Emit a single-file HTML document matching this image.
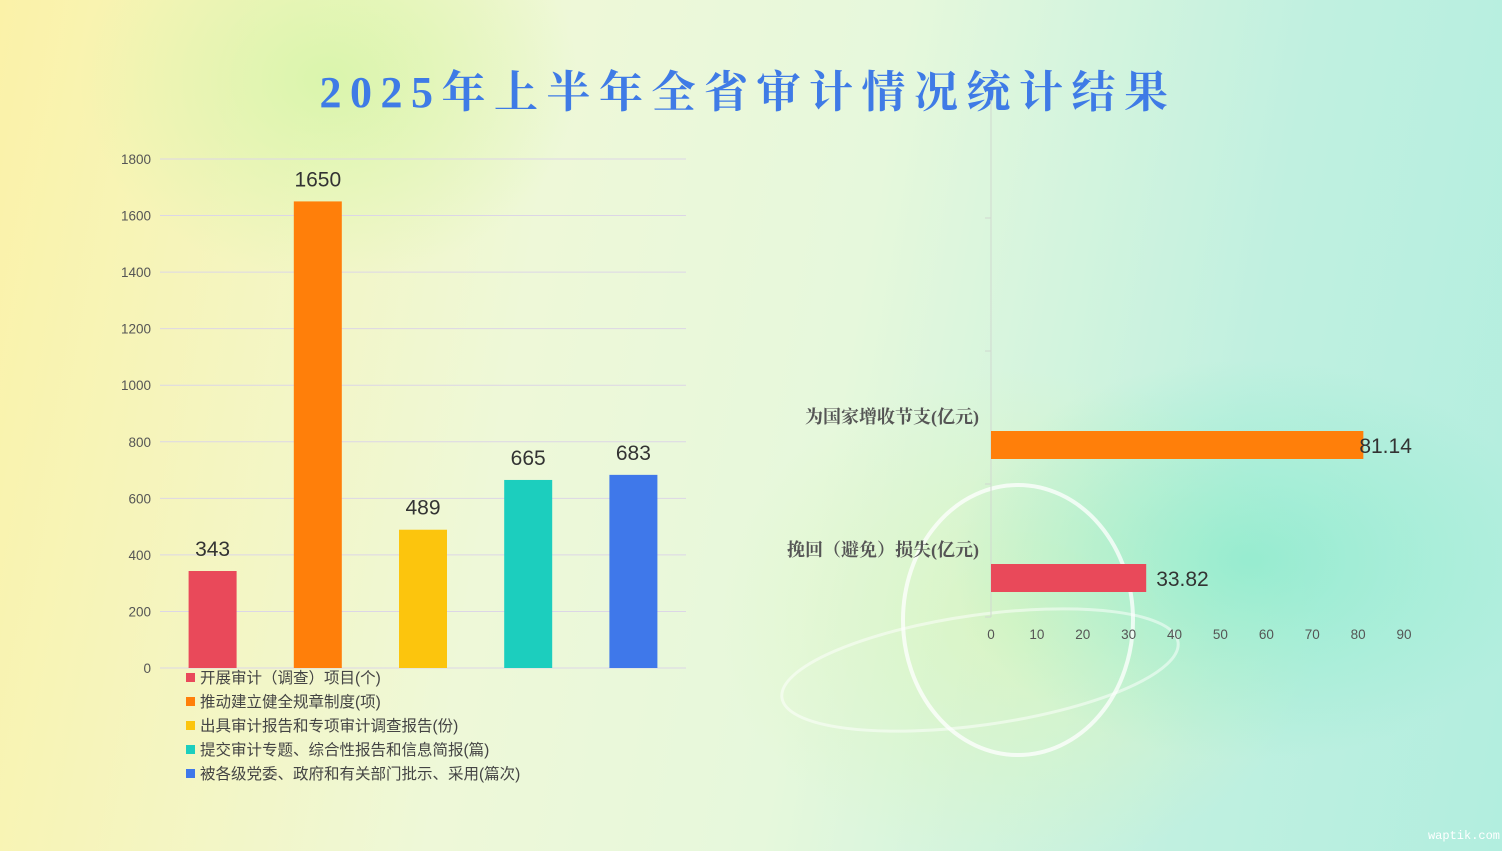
<!DOCTYPE html>
<html><head><meta charset="utf-8"><style>
body{margin:0;width:1502px;height:851px;overflow:hidden;font-family:"Liberation Sans","Noto Sans CJK SC",sans-serif}
#bg{position:absolute;left:0;top:0;width:1502px;height:851px;background:
radial-gradient(ellipse 300px 200px at 1250px 560px,rgba(140,235,205,.8),transparent),
radial-gradient(ellipse 250px 200px at 330px 80px,rgba(215,245,170,.9),transparent),
radial-gradient(ellipse 300px 250px at 1020px 620px,rgba(220,245,190,.8),transparent),
linear-gradient(100deg,#fbf2a8 0%,#eef8d8 35%,#e6f8dc 55%,#c0f0e0 80%,#b2eedf 100%)}
svg{position:absolute;left:0;top:0}
</style></head><body>
<div id="bg"></div>
<svg width="1502" height="851" id="c">
<text x="748" y="107" text-anchor="middle" font-family="Liberation Serif,'Noto Serif CJK SC',serif" font-weight="bold" font-size="44" fill="#3f7be6" letter-spacing="8.5">2025年上半年全省审计情况统计结果</text>
<ellipse cx="1018" cy="620" rx="115" ry="135" fill="none" stroke="rgba(255,255,255,.75)" stroke-width="4"/>
<ellipse cx="980" cy="670" rx="200" ry="55" fill="none" stroke="rgba(255,255,255,.5)" stroke-width="3" transform="rotate(-8 980 670)"/>
<line x1="991" y1="100" x2="991" y2="617" stroke="#d0d8d0"/>
</svg>
<script>
const cats=["开展审计（调查）项目(个)","推动建立健全规章制度(项)","出具审计报告和专项审计调查报告(份)","提交审计专题、综合性报告和信息简报(篇)","被各级党委、政府和有关部门批示、采用(篇次)"];
const vals=[343,1650,489,665,683];
const colors=["#e9495a","#ff7f0a","#fcc50d","#1ccebe","#3f78ea"];
const yTicks=[0,200,400,600,800,1000,1200,1400,1600,1800];
const hCats=["为国家增收节支(亿元)","挽回（避免）损失(亿元)"];
const hVals=[81.14,33.82];
const hColors=["#ff7f0a","#e9495a"];
const xTicks=[0,10,20,30,40,50,60,70,80,90];
const svg=document.getElementById('c');
const NS='http://www.w3.org/2000/svg';
function mk(t,a,txt){const e=document.createElementNS(NS,t);for(const k in a)e.setAttribute(k,a[k]);if(txt!=null)e.textContent=txt;svg.appendChild(e);return e;}
const y=v=>668-v*(509/1800);
const bx=i=>160+105.2*(i+0.5);
yTicks.forEach(t=>{
 const l=mk('line',{x1:160,x2:686,y1:y(t),y2:y(t),stroke:'#dcd6e6'});
 
 
 const tx=mk('text',{x:151,y:y(t)+5,'text-anchor':'end','font-size':13.5,fill:'#555'},t);
 
 
});
vals.forEach((v,i)=>{
 const r=mk('rect',{x:bx(i)-24,y:y(v),width:48,height:668-y(v),fill:colors[i]});
 
 
 const t=mk('text',{x:bx(i),y:y(v)-15,'text-anchor':'middle','font-size':21,fill:'#333'},v);
 
 
 const s=mk('rect',{x:186,y:673+i*24,width:9,height:9,fill:colors[i]});
 
 
 const lt=mk('text',{x:200,y:683+i*24,'font-size':15.5,fill:'#444'},cats[i]);
 
 
});
const x=v=>991+v*(413/90);
[218,351,484,617].forEach(ty=>{
 const l=mk('line',{x1:985,x2:991,y1:ty,y2:ty,stroke:'#d0d8d0'});
 
 
});
xTicks.forEach(t=>{
 const tx=mk('text',{x:x(t),y:639,'text-anchor':'middle','font-size':13.5,fill:'#555'},t);
 
 
});
hVals.forEach((v,i)=>{
 const cy=445+i*133;
 const r=mk('rect',{x:991,y:cy-14,width:x(v)-991,height:28,fill:hColors[i]});
 
 
 const t=mk('text',{x:x(v)+(i==0?-4:10),y:cy+8,'font-size':21,fill:'#333'},v.toFixed(2));
 
 
 const c=mk('text',{x:979,y:cy-22,'text-anchor':'end','font-size':18,'font-weight':'bold','font-family':"Liberation Serif,'Noto Serif CJK SC',serif",fill:'#555'},hCats[i]);
 
 
});
const w=mk('text',{x:1500,y:839,'text-anchor':'end','font-size':12,'font-family':'Liberation Mono,monospace',fill:'#fff'},'waptik.com');


</script>
</body></html>
